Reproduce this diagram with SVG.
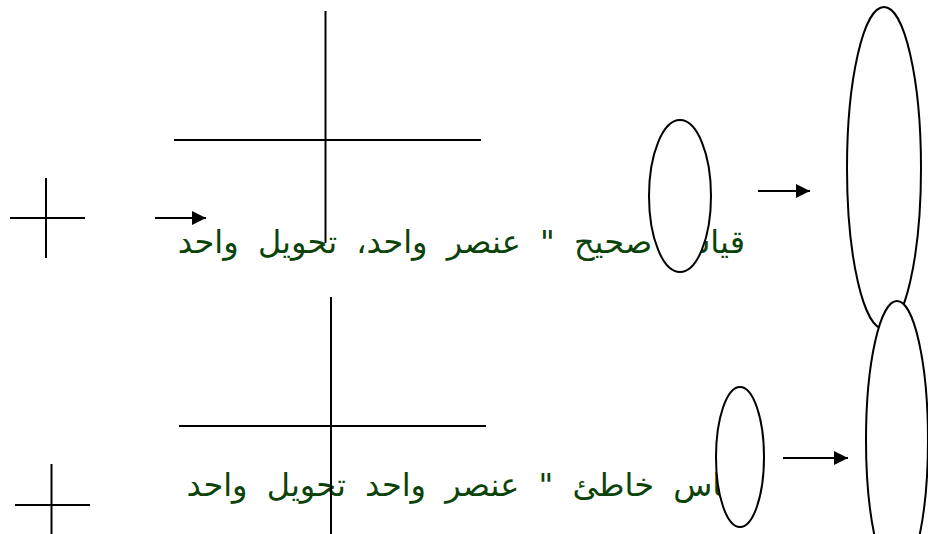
<svg xmlns="http://www.w3.org/2000/svg" width="928" height="534" viewBox="0 0 928 534">
  <style>
    .ln { stroke: #000; stroke-width: 2; fill: none; }
    .el { stroke: #000; stroke-width: 2; fill: #fff; }
    .lbl { font-family: "DejaVu Sans", "Liberation Sans", sans-serif; font-size: 32px; word-spacing: 9px; fill: #0b430b; direction: rtl; unicode-bidi: embed; }
    .arr { stroke: #000; stroke-width: 2; fill: none; marker-end: url(#ah); }
  </style>
  <defs>
    <marker id="ah" markerUnits="userSpaceOnUse" markerWidth="16" markerHeight="16" refX="14" refY="7" orient="auto">
      <polygon points="0,0 14,7 0,14" fill="#000"/>
    </marker>
  </defs>
  <rect width="928" height="534" fill="#fff"/>

  <g id="label-correct">
    <text class="lbl" x="745" y="253" text-anchor="start">قياس صحيح " عنصر واحد، تحويل واحد</text>
  </g>
  <g id="label-wrong">
    <text class="lbl" x="747" y="496" text-anchor="start">قياس خاطئ " عنصر واحد تحويل واحد</text>
  </g>

  <g id="cross-big-1">
    <line class="ln" x1="325.5" y1="11" x2="325.5" y2="243"/>
    <line class="ln" x1="174" y1="140" x2="481" y2="140"/>
  </g>
  <g id="cross-small-1">
    <line class="ln" x1="46" y1="178" x2="46" y2="258"/>
    <line class="ln" x1="10" y1="218" x2="85" y2="218"/>
  </g>
  <g id="cross-big-2">
    <line class="ln" x1="331" y1="297" x2="331" y2="534"/>
    <line class="ln" x1="179" y1="426" x2="486" y2="426"/>
  </g>
  <g id="cross-small-2">
    <line class="ln" x1="51.5" y1="464" x2="51.5" y2="534"/>
    <line class="ln" x1="15" y1="505" x2="90" y2="505"/>
  </g>

  <g id="ellipse-small-1">
    <ellipse class="el" cx="680" cy="196" rx="31" ry="76"/>
  </g>
  <g id="ellipse-big-1">
    <ellipse class="el" cx="884" cy="168" rx="37" ry="161"/>
  </g>
  <g id="ellipse-small-2">
    <ellipse class="el" cx="740" cy="457" rx="24" ry="70"/>
  </g>
  <g id="ellipse-big-2">
    <ellipse class="el" cx="897" cy="440" rx="31" ry="139"/>
  </g>

  <g id="connectors">
    <line class="arr" x1="155" y1="218" x2="206" y2="218"/>
    <line class="arr" x1="758" y1="191" x2="810" y2="191"/>
    <line class="arr" x1="783" y1="458" x2="848" y2="458"/>
  </g>
</svg>
